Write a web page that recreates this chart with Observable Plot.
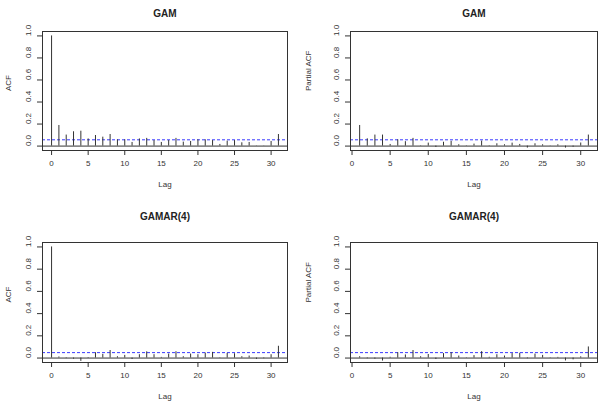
<!DOCTYPE html>
<html>
<head>
<meta charset="utf-8">
<script src="https://cdn.jsdelivr.net/npm/d3@7"></script>
<script src="https://cdn.jsdelivr.net/npm/@observablehq/plot@0.6"></script>
<style>
  html, body { margin: 0; padding: 0; background: #fff; }
  #wrap { position: relative; width: 600px; height: 407px; overflow: hidden; }
  .panel { position: absolute; }
</style>
</head>
<body>
<div id="wrap"></div>
<script>
// Lags
const acfLags = [0,1,2,3,4,5,6,7,8,9,10,11,12,13,14,15,16,17,18,19,20,21,22,23,24,25,26,27,28,29,30,31];
const pacfLags = [1,2,3,4,5,6,7,8,9,10,11,12,13,14,15,16,17,18,19,20,21,22,23,24,25,26,27,28,29,30,31];

// GAM residuals
const gamAcf = [1.0, 0.187, 0.10, 0.13, 0.135, 0.065, 0.096, 0.081, 0.105, 0.057, 0.057, 0.033, 0.065, 0.07, 0.05, 0.033, 0.05, 0.07, 0.036, 0.042, 0.057, 0.057, 0.05, 0.015, 0.045, 0.05, 0.03, 0.033, 0.002, 0.002, 0.042, 0.105];
const gamPacf = [0.187, 0.066, 0.10, 0.10, 0.015, 0.057, 0.04, 0.07, 0.003, 0.027, -0.012, 0.035, 0.043, 0.012, -0.003, 0.018, 0.045, -0.003, 0.021, 0.012, 0.027, 0.015, -0.018, 0.021, 0.012, 0.002, 0.012, -0.018, -0.01, 0.028, 0.10];

// GAMAR(4) residuals
const gamarAcf = [1.0, 0.01, -0.005, -0.01, -0.03, 0.005, 0.048, 0.033, 0.068, 0.012, 0.024, -0.013, 0.03, 0.056, 0.03, 0.006, 0.036, 0.057, 0.012, 0.036, 0.03, 0.045, 0.051, 0.003, 0.042, 0.039, 0.012, 0.018, -0.012, -0.006, 0.03, 0.106];
const gamarPacf = [0.012, -0.006, -0.01, -0.027, 0.007, 0.048, 0.028, 0.068, 0.012, 0.032, -0.013, 0.04, 0.048, 0.018, 0.003, 0.022, 0.058, 0.007, 0.03, 0.018, 0.04, 0.043, -0.006, 0.036, 0.024, 0.003, 0.006, -0.026, -0.016, 0.011, 0.10];

// Confidence bounds (upper) and ticks
const climGam = 0.057;
const climGamar = 0.049;
const xTicks = [0, 5, 10, 15, 20, 25, 30];
const yTicks = [0, 0.2, 0.4, 0.6, 0.8, 1.0];

const titles = ["GAM", "GAM", "GAMAR(4)", "GAMAR(4)"];
const yLabels = ["ACF", "Partial ACF", "ACF", "Partial ACF"];

const ink = "#333";
const font = "'Liberation Sans', Arial, Helvetica, sans-serif";

function panel({left, top, width, height, mLeft, mRight, mTop, mBottom, xDomain, lags, values, clim, title, ylab}) {
  const data = lags.map((lag, i) => ({lag, value: values[i]}));
  const chart = Plot.plot({
    width, height,
    marginLeft: mLeft, marginRight: mRight, marginTop: mTop, marginBottom: mBottom,
    x: {domain: xDomain, axis: null},
    y: {domain: [-0.04, 1.04], axis: null},
    style: {fontFamily: font, fontSize: "8px", color: ink, background: "white", overflow: "visible"},
    marks: [
      Plot.ruleY([0], {stroke: ink, strokeWidth: 1}),
      Plot.ruleY([clim], {stroke: "#3a3aff", strokeWidth: 1, strokeDasharray: "3,2"}),
      Plot.ruleX(data, {x: "lag", y1: 0, y2: "value", stroke: ink, strokeWidth: 1}),
      Plot.frame({stroke: ink, strokeWidth: 1}),
      Plot.axisX({ticks: xTicks, tickSize: 5, tickPadding: 5, tickFormat: d => String(d), label: null, fontSize: 8, stroke: ink}),
      Plot.axisY({ticks: yTicks, tickSize: 5, tickFormat: () => "", label: null, stroke: ink}),
      Plot.text(yTicks, {y: d => d, frameAnchor: "left", dx: -14, rotate: -90, text: d => d.toFixed(1), fontSize: 8, fill: ink}),
      Plot.text([title], {frameAnchor: "top", dy: -(mTop - 9), text: d => d, fontSize: 10, fontWeight: "bold", fill: "#222"}),
      Plot.text(["Lag"], {frameAnchor: "bottom", dy: 36, text: d => d, fontSize: 8, fill: ink}),
      Plot.text([ylab], {frameAnchor: "left", dx: -(mLeft - 8), rotate: -90, text: d => d, fontSize: 8, fill: ink})
    ]
  });
  const div = document.createElement("div");
  div.className = "panel";
  div.style.left = left + "px";
  div.style.top = top + "px";
  div.appendChild(chart);
  document.getElementById("wrap").appendChild(div);
}

// Top-left: GAM ACF
panel({left: 0, top: 0, width: 300, height: 203, mLeft: 42, mRight: 13, mTop: 31, mBottom: 53,
  xDomain: [-1.24, 32.24], lags: acfLags, values: gamAcf, clim: climGam, title: titles[0], ylab: yLabels[0]});
// Top-right: GAM PACF
panel({left: 300, top: 0, width: 300, height: 203, mLeft: 50, mRight: 3, mTop: 31, mBottom: 53,
  xDomain: [-0.2, 32.2], lags: pacfLags, values: gamPacf, clim: climGam, title: titles[1], ylab: yLabels[1]});
// Bottom-left: GAMAR(4) ACF
panel({left: 0, top: 203, width: 300, height: 204, mLeft: 42, mRight: 13, mTop: 39, mBottom: 45,
  xDomain: [-1.24, 32.24], lags: acfLags, values: gamarAcf, clim: climGamar, title: titles[2], ylab: yLabels[2]});
// Bottom-right: GAMAR(4) PACF
panel({left: 300, top: 203, width: 300, height: 204, mLeft: 50, mRight: 3, mTop: 39, mBottom: 45,
  xDomain: [-0.2, 32.2], lags: pacfLags, values: gamarPacf, clim: climGamar, title: titles[3], ylab: yLabels[3]});
</script>
</body>
</html>
